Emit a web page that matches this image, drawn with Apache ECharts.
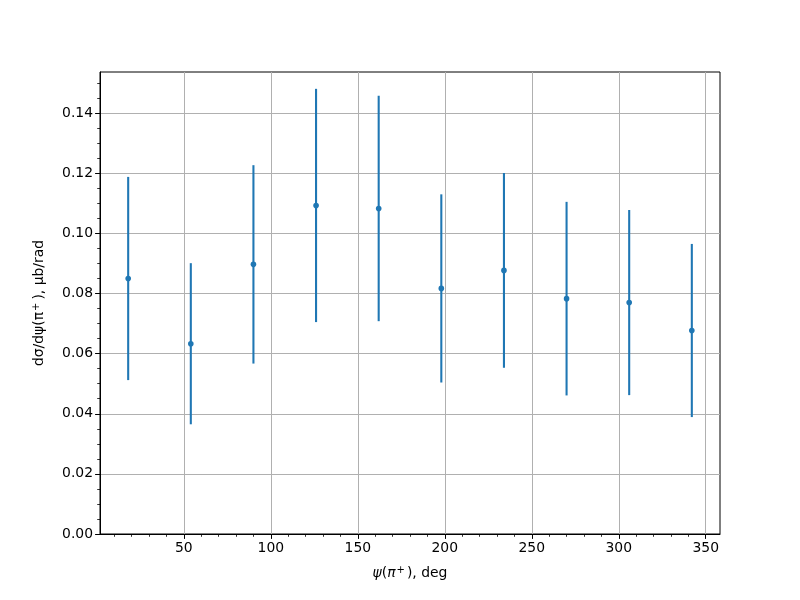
<!DOCTYPE html>
<html>
<head>
<meta charset="utf-8">
<script src="https://cdn.jsdelivr.net/npm/echarts@6/dist/echarts.min.js"></script>
<style>html,body{margin:0;padding:0;background:#fff}#c{width:800px;height:600px}</style>
</head>
<body>
<div id="c"></div>
<script>
// Data
const psiDeg = [18, 54, 90, 126, 162, 198, 234, 270, 306, 342];
const dSigma = [0.0850, 0.0633, 0.0897, 0.1093, 0.1083, 0.0817, 0.0877, 0.0783, 0.0770, 0.0677];
const dSigmaErr = [0.0338, 0.0268, 0.0330, 0.0388, 0.0375, 0.0313, 0.0324, 0.0322, 0.0308, 0.0288];
const xTicks = [50, 100, 150, 200, 250, 300, 350];
const xMinorTicks = [10, 20, 30, 40, 60, 70, 80, 90, 110, 120, 130, 140, 160, 170, 180, 190, 210, 220, 230, 240, 260, 270, 280, 290, 310, 320, 330, 340];
const yTicks = [0, 0.02, 0.04, 0.06, 0.08, 0.10, 0.12, 0.14];
const yMinorTicks = [0.005, 0.01, 0.015, 0.025, 0.03, 0.035, 0.045, 0.05, 0.055, 0.065, 0.07, 0.075, 0.085, 0.09, 0.095, 0.105, 0.11, 0.115, 0.125, 0.13, 0.135, 0.145, 0.15];

const X_MIN = 1.8, X_MAX = 358.2, Y_MIN = 0, Y_MAX = 0.1537;
const C = '#1f77b4';
const FONT = 'DejaVu Sans';
const FS = 13.9;

const pts = psiDeg.map((x, i) => [x, dSigma[i]]);
const bars = psiDeg.map((x, i) => [x, dSigma[i] - dSigmaErr[i], dSigma[i] + dSigmaErr[i]]);

const chart = echarts.init(document.getElementById('c'), null, {renderer: 'canvas'});
const baseAxisX = {
  type: 'value', min: X_MIN, max: X_MAX, gridIndex: 0, position: 'bottom', offset: 0
};
const baseAxisY = {
  type: 'value', min: Y_MIN, max: Y_MAX, gridIndex: 0, position: 'left', offset: 0
};
chart.setOption({
  animation: false,
  backgroundColor: '#fff',
  grid: {left: 100, right: 80, top: 72, bottom: 66, show: true, borderColor: '#000', borderWidth: 1, backgroundColor: 'transparent'},
  xAxis: [
    Object.assign({}, baseAxisX, {
      name: '{i|ψ}{n|(}{i|π}{s|+}{n|), deg}',
      nameLocation: 'middle', nameGap: 31,
      nameTextStyle: {
        rich: {
          i: {fontFamily: FONT, fontSize: FS, fontStyle: 'italic', color: '#000'},
          n: {fontFamily: FONT, fontSize: FS, color: '#000'},
          s: {fontFamily: FONT, fontSize: 10, fontStyle: 'italic', color: '#000', verticalAlign: 'top', padding: [0, 2, 6, 1]}
        }
      },
      axisLine: {show: true, onZero: false, lineStyle: {color: '#000', width: 1}},
      axisTick: {show: true, inside: false, length: 4.9, customValues: xTicks, lineStyle: {color: '#000', width: 1}},
      axisLabel: {show: true, customValues: xTicks, margin: 7, color: '#000', fontFamily: FONT, fontSize: FS},
      splitLine: {show: true, lineStyle: {color: '#b0b0b0', width: 1}}
    }),
    Object.assign({}, baseAxisX, {
      axisLine: {show: false},
      axisTick: {show: true, inside: false, length: 2.8, customValues: xMinorTicks, lineStyle: {color: '#000', width: 0.8}},
      axisLabel: {show: false},
      splitLine: {show: false}
    })
  ],
  yAxis: [
    Object.assign({}, baseAxisY, {
      name: 'd{i|σ}/d{i|ψ}(π{s|+}), μb/rad',
      nameLocation: 'middle', nameGap: 53,
      nameTextStyle: {
        fontFamily: FONT, fontSize: FS, color: '#000',
        rich: {
          i: {fontFamily: FONT, fontSize: FS, color: '#000'},
          s: {fontFamily: FONT, fontSize: 10, color: '#000', verticalAlign: 'top', padding: [0, 3, 6, 1]}
        }
      },
      axisLine: {show: true, onZero: false, lineStyle: {color: '#000', width: 1}},
      axisTick: {show: true, inside: false, length: 4.9, customValues: yTicks, lineStyle: {color: '#000', width: 1}},
      axisLabel: {show: true, customValues: yTicks, margin: 7, color: '#000', fontFamily: FONT, fontSize: FS,
        formatter: v => v.toFixed(2)},
      splitLine: {show: true, lineStyle: {color: '#b0b0b0', width: 1}}
    }),
    Object.assign({}, baseAxisY, {
      axisLine: {show: false},
      axisTick: {show: true, inside: false, length: 2.8, customValues: yMinorTicks, lineStyle: {color: '#000', width: 0.8}},
      axisLabel: {show: false},
      splitLine: {show: false}
    })
  ],
  series: [
    {
      type: 'custom', xAxisIndex: 0, yAxisIndex: 0, data: bars, z: 2,
      renderItem: (params, api) => {
        const x = api.value(0);
        const p1 = api.coord([x, api.value(1)]);
        const p2 = api.coord([x, api.value(2)]);
        return {type: 'line', shape: {x1: p1[0], y1: p1[1], x2: p2[0], y2: p2[1]},
          style: {stroke: C, lineWidth: 2.08}};
      }
    },
    {
      type: 'scatter', xAxisIndex: 0, yAxisIndex: 0, data: pts, z: 3,
      symbol: 'circle', symbolSize: 5.6, itemStyle: {color: C, opacity: 1}
    }
  ]
});
</script>
</body>
</html>
